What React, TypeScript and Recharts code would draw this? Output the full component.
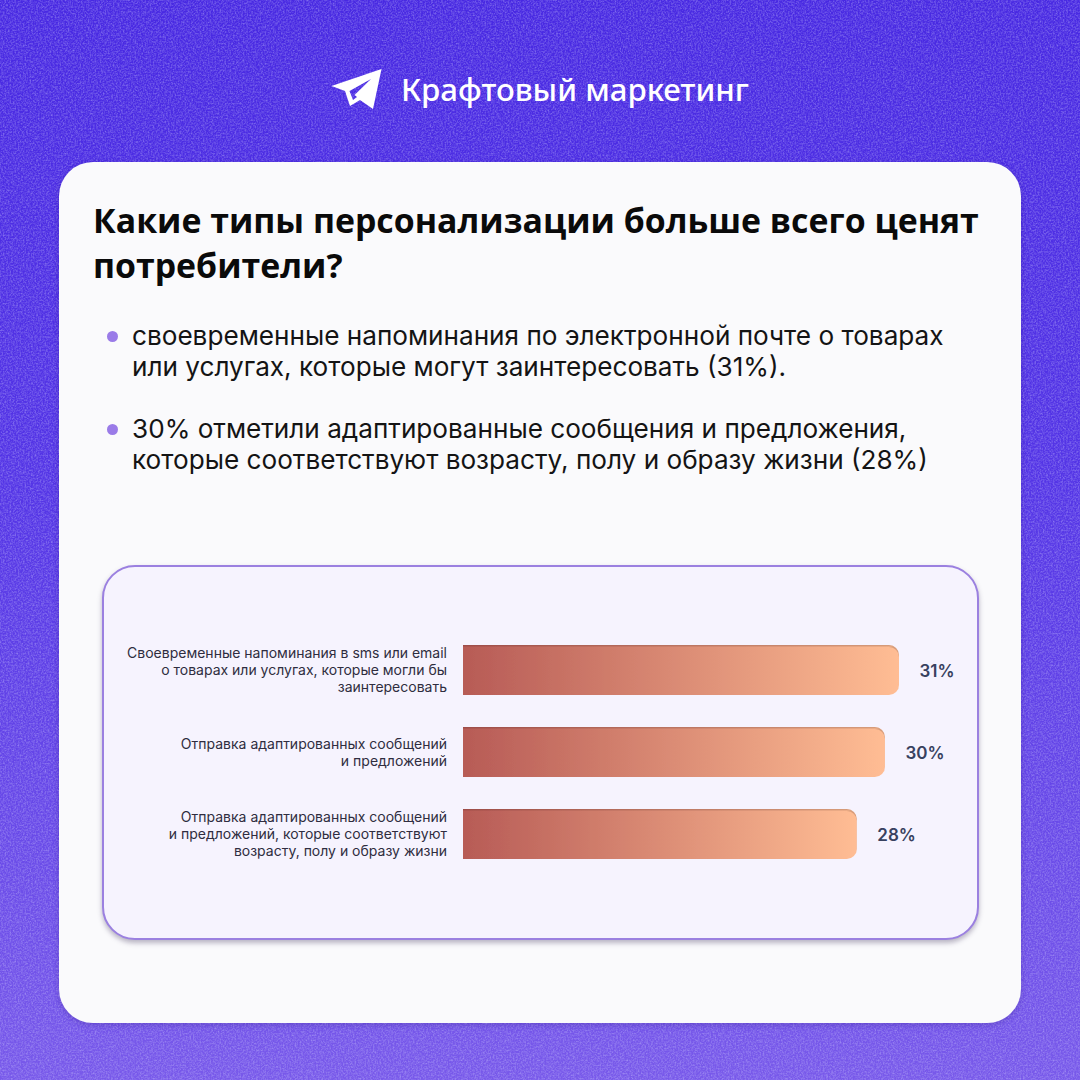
import { Bar, BarChart, LabelList, XAxis, YAxis } from "recharts";

const categories = [
  "Своевременные напоминания в sms или email\nо товарах или услугах, которые могли бы\nзаинтересовать",
  "Отправка адаптированных сообщений\nи предложений",
  "Отправка адаптированных сообщений\nи предложений, которые соответствуют\nвозрасту, полу и образу жизни",
];
const shares = [31, 30, 28];
const brandName = "Крафтовый маркетинг";
const titleLines = ["Какие типы персонализации больше всего ценят", "потребители?"];
const bullets = [
  ["своевременные напоминания по электронной почте о товарах", "или услугах, которые могут заинтересовать (31%)."],
  ["30% отметили адаптированные сообщения и предложения,", "которые соответствуют возрасту, полу и образу жизни (28%)"],
];

const rows = categories.map((name, i) => ({ name, share: shares[i] }));

function CategoryTick({ x, y, payload }: any) {
  const lines = String(payload.value).split("\n");
  const lineHeight = 17;
  const firstY = y - ((lines.length - 1) * lineHeight) / 2;
  return (
    <text textAnchor="end" fontFamily="Inter" fontSize={14} fill="#2f2d40">
      {lines.map((line, i) => (
        <tspan key={line} x={x} y={firstY + i * lineHeight} dy="0.36em">
          {line}
        </tspan>
      ))}
    </text>
  );
}

function NoiseBackground() {
  return (
    <svg width={1080} height={1080} style={{ position: "absolute", left: 0, top: 0 }}>
      <defs>
        <linearGradient id="bgFade" x1="0" y1="0" x2="0" y2="1">
          <stop offset="0%" stopColor="#4829e2" />
          <stop offset="45%" stopColor="#5435e6" />
          <stop offset="100%" stopColor="#7859ea" />
        </linearGradient>
        <filter id="grain" x="0" y="0" width="100%" height="100%">
          <feTurbulence type="fractalNoise" baseFrequency="0.6" numOctaves={3} seed={4} />
          <feColorMatrix values="0 0 0 0 0.68  0 0 0 0 0.66  0 0 0 0 1  1.6 0 0 0 -0.58" />
        </filter>
      </defs>
      <rect width={1080} height={1080} fill="url(#bgFade)" />
      <rect width={1080} height={1080} filter="url(#grain)" opacity={0.45} />
    </svg>
  );
}

function BrandMark() {
  return (
    <svg width={52} height={42} viewBox="0 0 52 42" style={{ position: "absolute", left: 331, top: 68 }}>
      <path
        d="M0.5 18 L50.5 1 L42 41 L29 32 L19 38 L14 23 Z M18.5 23 L22 32 L26 29 L23.5 27 L40 11 Z"
        fill="#ffffff"
        fillRule="evenodd"
      />
    </svg>
  );
}

export default function App() {
  return (
    <div style={{ position: "absolute", left: 0, top: 0, width: 1080, height: 1080, overflow: "hidden" }}>
      <NoiseBackground />
      <BrandMark />
      <div
        style={{
          position: "absolute",
          left: 401,
          top: 69,
          fontFamily: "Noto Sans",
          fontWeight: 500,
          fontSize: 31.2,
          lineHeight: "40px",
          color: "#fff",
          whiteSpace: "nowrap",
        }}
      >
        {brandName}
      </div>

      <div
        style={{
          position: "absolute",
          left: 59,
          top: 162,
          width: 962,
          height: 861,
          borderRadius: 34,
          background: "#fafafc",
          boxShadow: "0 2px 6px rgba(40,20,120,0.25)",
        }}
      />

      <div
        style={{
          position: "absolute",
          left: 93,
          top: 198,
          fontFamily: "Open Sans",
          fontWeight: 700,
          fontSize: 33.85,
          lineHeight: "45px",
          color: "#0a0a0a",
          whiteSpace: "nowrap",
        }}
      >
        {titleLines.map((line) => (
          <div key={line}>{line}</div>
        ))}
      </div>

      {bullets.map((lines, i) => (
        <div key={lines[0]}>
          <div
            style={{
              position: "absolute",
              left: 107,
              top: 331 + i * 92.5,
              width: 11,
              height: 11,
              borderRadius: "50%",
              background: "#9a7be8",
            }}
          />
          <div
            style={{
              position: "absolute",
              left: 132,
              top: 320 + i * 92.5,
              fontFamily: "Inter",
              fontSize: 26.15,
              lineHeight: "31px",
              color: "#141414",
              whiteSpace: "nowrap",
            }}
          >
            {lines.map((line) => (
              <div key={line}>{line}</div>
            ))}
          </div>
        </div>
      ))}

      <div
        style={{
          position: "absolute",
          left: 102,
          top: 565,
          width: 877,
          height: 375,
          boxSizing: "border-box",
          borderRadius: 33,
          border: "2px solid #9b80e0",
          background: "#f6f3fe",
          boxShadow: "0 3px 5px rgba(60,50,90,0.35)",
        }}
      >
        <div style={{ position: "absolute", left: -1, top: -1 }}>
          <BarChart
            width={875}
            height={373}
            layout="vertical"
            data={rows}
            margin={{ top: 63, right: 79, bottom: 64, left: 0 }}
            barSize={50}
          >
            <defs>
              <linearGradient id="barFill" x1="0" y1="0" x2="1" y2="0">
                <stop offset="0%" stopColor="#b75b56" />
                <stop offset="100%" stopColor="#ffbd94" />
              </linearGradient>
              <filter id="barInset" x="0" y="0" width="100%" height="100%">
                <feOffset in="SourceAlpha" dy={1.5} result="moved" />
                <feComposite in="SourceAlpha" in2="moved" operator="out" result="edge" />
                <feFlood floodColor="#5a2a2a" floodOpacity={0.35} />
                <feComposite in2="edge" operator="in" result="shade" />
                <feMerge>
                  <feMergeNode in="SourceGraphic" />
                  <feMergeNode in="shade" />
                </feMerge>
              </filter>
            </defs>
            <XAxis type="number" hide domain={[0, 31]} />
            <YAxis
              type="category"
              dataKey="name"
              width={360}
              axisLine={false}
              tickLine={false}
              tickSize={0}
              tickMargin={16}
              interval={0}
              tick={<CategoryTick />}
            />
            <Bar
              dataKey="share"
              fill="url(#barFill)"
              radius={[0, 10, 10, 0]}
              filter="url(#barInset)"
              isAnimationActive={false}
            >
              <LabelList
                dataKey="share"
                position="right"
                offset={20.5}
                formatter={(v: any) => `${v}%`}
                fill="#38415f"
                fontFamily="Inter"
                fontWeight={600}
                fontSize={17}
                dy={1}
              />
            </Bar>
          </BarChart>
        </div>
      </div>
    </div>
  );
}
